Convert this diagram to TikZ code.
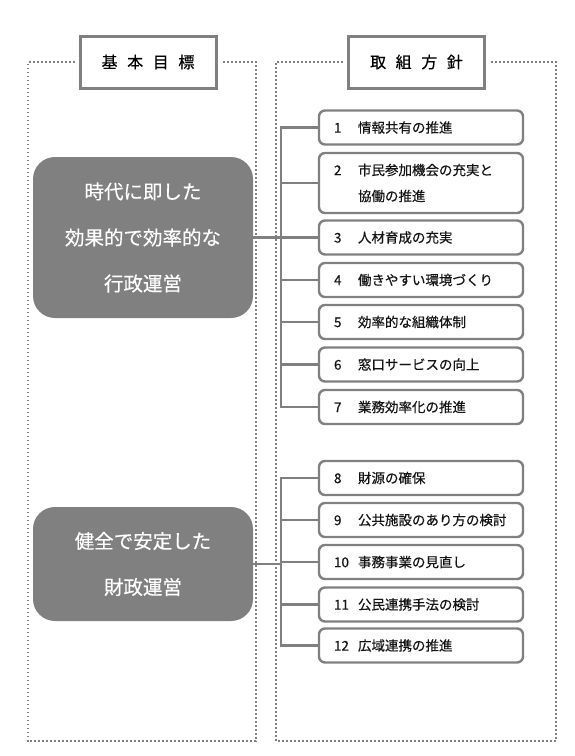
\documentclass[tikz,border=0pt]{standalone}
\usepackage{fontspec}
\setmainfont{Noto Sans CJK JP}[FakeBold=0.4]
\usetikzlibrary{positioning}
\definecolor{linegray}{RGB}{128,128,128}
\definecolor{dotgray}{RGB}{128,128,128}
\definecolor{textdark}{RGB}{20,20,20}
\newcommand{\numitem}[1]{\makebox[24pt][l]{#1}}

\begin{document}
\begin{tikzpicture}[x=1pt,y=-1pt,
  dotframe/.style={dotgray, line width=1.9pt, dash pattern=on 1.9pt off 2.1pt},
  heading/.style={draw=linegray, line width=3pt, fill=white, minimum width=136pt, minimum height=52pt, font=\fontsize{16}{20}\selectfont},
  goal/.style={fill=linegray, rounded corners=22pt, minimum width=220pt, text=white, align=center, font=\fontsize{19.5}{46}\selectfont},
  policy/.style={draw=linegray, line width=2.4pt, rounded corners=6pt, fill=white, text=textdark, text width=174pt, inner xsep=15pt, minimum height=34pt, align=left, font=\fontsize{13.5}{26}\selectfont},
  link/.style={linegray, line width=2.4pt}]
\useasboundingbox (0,0) rectangle (574,756);
% Headings
\node[heading] (headA) at (148,62) {基\hspace{0.6em}本\hspace{0.6em}目\hspace{0.6em}標};
\node[heading] (headB) at (416.5,62) {取\hspace{0.6em}組\hspace{0.6em}方\hspace{0.6em}針};
% Dotted frames
\draw[dotframe] ([xshift=-4pt]headA.west) -- (28,62) -- (28,741) -- (256,741) -- (256,62) -- ([xshift=4pt]headA.east);
\draw[dotframe] ([xshift=-4pt]headB.west) -- (276,62) -- (276,741) -- (556,741) -- (556,62) -- ([xshift=4pt]headB.east);
% Goals
\node[goal, minimum height=161pt] (goalA) at (143,237.5) {時代に即した\\効果的で効率的な\\行政運営};
\node[goal, minimum height=114pt] (goalB) at (143,564) {健全で安定した\\財政運営};
% Policies for goal A
\node[policy] (p1) at (421,127.5) {\numitem{1}情報共有の推進};
\node[policy, minimum height=60pt] (p2) at (421,183) {\numitem{2}市民参加機会の充実と\\\hspace*{24pt}協働の推進};
\node[policy] (p3) at (421,237.5) {\numitem{3}人材育成の充実};
\node[policy] (p4) at (421,280) {\numitem{4}働きやすい環境づくり};
\node[policy] (p5) at (421,322) {\numitem{5}効率的な組織体制};
\node[policy] (p6) at (421,364.5) {\numitem{6}窓口サービスの向上};
\node[policy] (p7) at (421,407) {\numitem{7}業務効率化の推進};
% Policies for goal B
\node[policy] (p8) at (421,478) {\numitem{8}財源の確保};
\node[policy] (p9) at (421,520) {\numitem{9}公共施設のあり方の検討};
\node[policy] (p10) at (421,562) {\numitem{10}事務事業の見直し};
\node[policy] (p11) at (421,604.5) {\numitem{11}公民連携手法の検討};
\node[policy] (p12) at (421,645.5) {\numitem{12}広域連携の推進};
% Connectors
\coordinate (trunk) at (281,0);
\draw[link] (p1.west) -- (p1.west -| trunk) -- (p7.west -| trunk) -- (p7.west);
\foreach \p in {p2,p3,p4,p5,p6}
  \draw[link] (\p.west -| trunk) -- (\p.west);
\draw[link] (goalA.east) -- (goalA.east -| trunk);
\draw[link] (p8.west) -- (p8.west -| trunk) -- (p12.west -| trunk) -- (p12.west);
\foreach \p in {p9,p10,p11}
  \draw[link] (\p.west -| trunk) -- (\p.west);
\draw[link] (goalB.east) -- (goalB.east -| trunk);
\end{tikzpicture}
\end{document}
